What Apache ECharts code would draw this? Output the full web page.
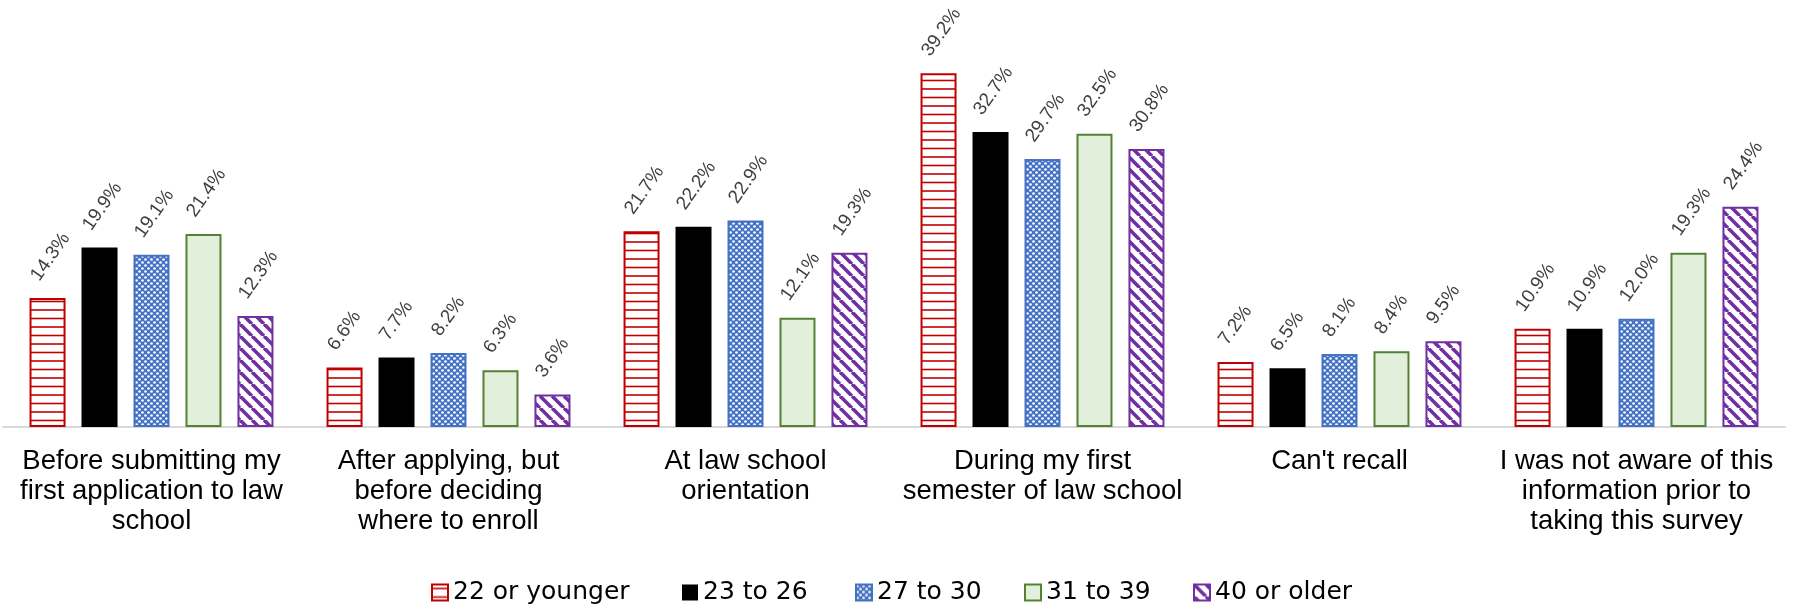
<!DOCTYPE html>
<html>
<head>
<meta charset="utf-8">
<script src="https://cdn.jsdelivr.net/npm/echarts@6/dist/echarts.min.js"></script>
<style>
  html, body { margin: 0; padding: 0; background: #ffffff; }
  #chart { width: 1793px; height: 611px; }
</style>
</head>
<body>
<div id="chart"></div>
<script>
// Survey: when respondents learned of the information, by age group (percent)
const categories = [
  'Before submitting my\nfirst application to law\nschool',
  'After applying, but\nbefore deciding\nwhere to enroll',
  'At law school\norientation',
  'During my first\nsemester of law school',
  "Can't recall",
  'I was not aware of this\ninformation prior to\ntaking this survey'
];
const seriesNames = ['22 or younger', '23 to 26', '27 to 30', '31 to 39', '40 or older'];
const age22OrYounger = [14.3, 6.6, 21.7, 39.2, 7.2, 10.9];
const age23To26 = [19.9, 7.7, 22.2, 32.7, 6.5, 10.9];
const age27To30 = [19.1, 8.2, 22.9, 29.7, 8.1, 12.0];
const age31To39 = [21.4, 6.3, 12.1, 32.5, 8.4, 19.3];
const age40OrOlder = [12.3, 3.6, 19.3, 30.8, 9.5, 24.4];

// Tile painters for the hatched fills
function makeTile(w, h, paint) {
  const c = document.createElement('canvas');
  c.width = w; c.height = h;
  paint(c.getContext('2d'), w, h);
  return { image: c, repeat: 'repeat' };
}

const redLines = makeTile(10, 17, (g, w, h) => {
  g.fillStyle = '#ffffff'; g.fillRect(0, 0, w, h);
  g.strokeStyle = '#c00000'; g.lineWidth = 1.6;
  [4, 12.5].forEach(y => { g.beginPath(); g.moveTo(0, y); g.lineTo(w, y); g.stroke(); });
});

const blueDots = makeTile(6, 6, (g, w, h) => {
  g.fillStyle = '#4472c4'; g.fillRect(0, 0, w, h);
  g.fillStyle = '#ffffff';
  [[1.5, 1.5], [4.5, 4.5]].forEach(([x, y]) => {
    g.beginPath(); g.arc(x, y, 1.35, 0, Math.PI * 2); g.fill();
  });
});

const purpleStripes = makeTile(12, 12, (g, w, h) => {
  g.fillStyle = '#ffffff'; g.fillRect(0, 0, w, h);
  g.strokeStyle = '#7030a0'; g.lineWidth = 3.6;
  [-12, 0, 12].forEach(k => { g.beginPath(); g.moveTo(k, 0); g.lineTo(k + 12, 12); g.stroke(); });
});

const styles = [
  { color: redLines, borderColor: '#c00000', borderWidth: 2 },
  { color: '#000000', borderColor: '#000000', borderWidth: 0 },
  { color: blueDots, borderColor: '#4472c4', borderWidth: 2 },
  { color: '#e2efda', borderColor: '#548235', borderWidth: 2 },
  { color: purpleStripes, borderColor: '#7030a0', borderWidth: 2 }
];
const values = [age22OrYounger, age23To26, age27To30, age31To39, age40OrOlder];
const legendLeft = [431, 682, 855, 1024, 1193];

const series = seriesNames.map((name, i) => ({
  name: name,
  type: 'bar',
  data: values[i],
  barWidth: 36,
  barGap: '44.4%',
  itemStyle: styles[i],
  label: {
    show: true,
    position: [5.5, -19],
    rotate: 55,
    align: 'left',
    verticalAlign: 'middle',
    fontFamily: 'Liberation Sans',
    fontSize: 19,
    color: '#404040',
    formatter: p => p.value.toFixed(1) + '%'
  }
}));

const legends = seriesNames.map((name, i) => ({
  data: [name],
  left: legendLeft[i],
  top: 580,
  padding: 0,
  itemWidth: 16,
  itemHeight: 16,
  icon: 'rect',
  selectedMode: false,
  textStyle: { fontFamily: 'DejaVu Sans', fontSize: 25, color: '#000000' }
}));

const chart = echarts.init(document.getElementById('chart'), null, { renderer: 'canvas' });
chart.setOption({
  animation: false,
  backgroundColor: '#ffffff',
  legend: legends,
  grid: { left: 3, right: 8, top: 21, bottom: 184, containLabel: false },
  xAxis: {
    type: 'category',
    data: categories,
    axisTick: { show: false },
    axisLine: { lineStyle: { color: '#d9d9d9', width: 2 } },
    axisLabel: {
      interval: 0,
      margin: 19,
      fontFamily: 'Liberation Sans',
      fontSize: 27.5,
      lineHeight: 30,
      color: '#000000',
      align: 'center'
    }
  },
  yAxis: {
    type: 'value',
    min: 0,
    max: 45,
    show: false,
    splitLine: { show: false }
  },
  series: series
});
</script>
</body>
</html>
